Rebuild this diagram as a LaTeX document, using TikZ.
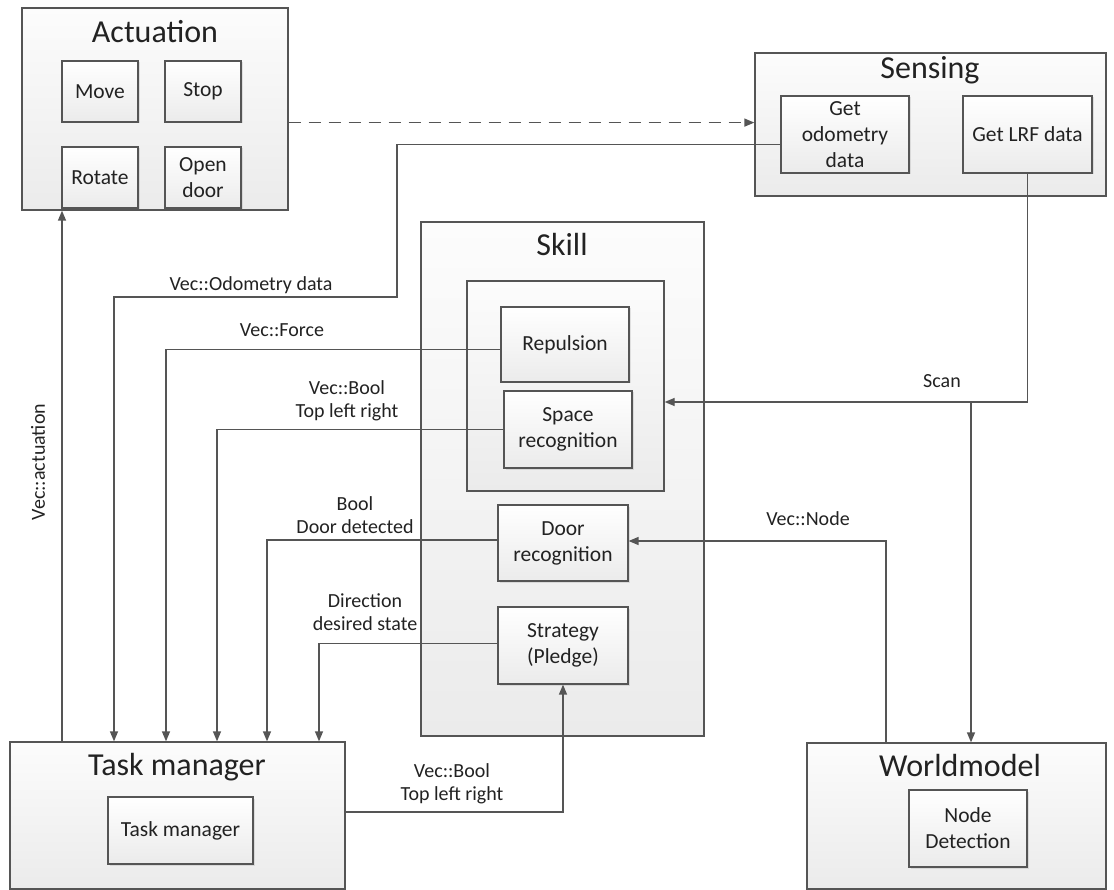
\documentclass[tikz,border=0pt]{standalone}
\usepackage{fontspec}
\setmainfont{Carlito}
\usepackage{tikz}
\usetikzlibrary{arrows.meta,shadows}
\definecolor{linecol}{HTML}{555555}
\definecolor{boxtop}{HTML}{FCFCFC}
\definecolor{boxbottom}{HTML}{EBEBEB}
\definecolor{textcol}{HTML}{222222}
\tikzset{
  >={Triangle[length=10pt,width=8pt]},
  group/.style 2 args={
    draw=linecol,
    line width=1.3pt,
    top color=boxtop,
    bottom color=boxbottom,
    minimum width=#1,
    minimum height=#2,
    inner sep=0pt
  },
  unit/.style={
    draw=linecol,
    line width=1.2pt,
    top color=white,
    bottom color=boxbottom,
    minimum width=128pt,
    minimum height=77pt,
    inner sep=0pt,
    align=center,
    text=textcol,
    font=\fontsize{21.5}{26}\selectfont,
    drop shadow={shadow xshift=1.5pt,shadow yshift=-1.5pt,opacity=0.2,fill=black!50}
  },
  small unit/.style={
    unit,
    minimum width=76pt,
    minimum height=61pt
  },
  group title/.style={
    font=\fontsize{32}{38}\selectfont,
    text=textcol
  },
  flow/.style={
    draw=linecol,
    line width=1.3pt,
    ->
  },
  flow text/.style={
    font=\fontsize{20}{23}\selectfont,
    text=textcol,
    align=center
  }
}

\begin{document}
\begin{tikzpicture}[x=1pt,y=-1pt]
  \useasboundingbox (0,0) rectangle (1114,890);

  % outer groups
  \node[group={266pt}{202pt}] (act) at (155,109) {};
  \node[group={351pt}{143pt}] (sens) at (930.5,124.5) {};
  \node[group={283pt}{514pt}] (skill) at (562.5,479) {};
  \node[group={197pt}{210pt}] (grp) at (565.5,386) {};
  \node[group={335pt}{147pt}] (tm) at (177.5,815.5) {};
  \node[group={299pt}{146pt}] (wm) at (956.5,816) {};

  \node[group title] (act-t) at (155,32) {Actuation};
  \node[group title] (sens-t) at (930,70) {Sensing};
  \node[group title] (skill-t) at (562,245) {Skill};
  \node[group title] (tm-t) at (177,767) {Task manager};
  \node[group title] (wm-t) at (960,765) {Worldmodel};

  % units
  \node[small unit] (move) at (100,91.5) {Move};
  \node[small unit] (stop) at (203,91.5) {Stop};
  \node[small unit] (rot) at (100,177.5) {Rotate};
  \node[small unit] (door-o) at (203,177.5) {Open\\door};

  \node[unit] (odo) at (845,134.5) {Get\\odometry\\data};
  \node[unit,minimum width=129pt] (lrf) at (1027.5,134.5) {Get LRF data};

  \node[unit,minimum height=75pt] (rep) at (565,344.5) {Repulsion};
  \node[unit] (space) at (568,429.5) {Space\\recognition};
  \node[unit,minimum width=130pt,minimum height=76pt] (door) at (563,543) {Door\\recognition};
  \node[unit,minimum width=130pt] (strat) at (563,645.5) {Strategy\\(Pledge)};

  \node[unit,minimum width=145pt,minimum height=67pt] (tm-u) at (180.5,830.5) {Task manager};
  \node[unit,minimum width=118pt] (nd) at (968,828.5) {Node\\Detection};

  % connectors
  \draw[flow,dash pattern=on 12pt off 8pt] (act.east |- move.south) -- (sens.west |- move.south);
  \draw[flow] (tm.north -| 62,0) -- (act.south -| 62,0);

  \draw[flow] ([yshift=-10pt]odo.west) -| (397,297) -| (tm.north -| 114,0);
  \draw[flow] ([yshift=-5pt]rep.west) -| (tm.north -| 166,0);
  \draw[flow] (space.west) -| (tm.north -| 217,0);
  \draw[flow] ([yshift=3pt]door.west) -| (tm.north -| 267,0);
  \draw[flow] ([yshift=2pt]strat.west) -| (tm.north -| 319,0);

  \coordinate (scan) at (971,402);
  \draw[flow] (lrf.south) |- (grp.east |- scan);
  \draw[flow] (scan) -- (scan |- wm.north);
  \draw[flow] (wm.north -| 886,0) |- ([yshift=2pt]door.east);
  \draw[flow] ([yshift=3.5pt]tm.east) -| (strat.south);

  % labels
  \node[flow text,rotate=90] at (38,462) {Vec::actuation};
  \node[flow text] at (251,285) {Vec::Odometry data};
  \node[flow text] at (282,330) {Vec::Force};
  \node[flow text] at (347,401) {Vec::Bool\\Top left right};
  \node[flow text] at (355,515) {Bool\\Door detected};
  \node[flow text] at (365,612) {Direction\\desired state};
  \node[flow text] at (942,381) {Scan};
  \node[flow text] at (808,519) {Vec::Node};
  \node[flow text] at (452,784) {Vec::Bool\\Top left right};
\end{tikzpicture}
\end{document}
